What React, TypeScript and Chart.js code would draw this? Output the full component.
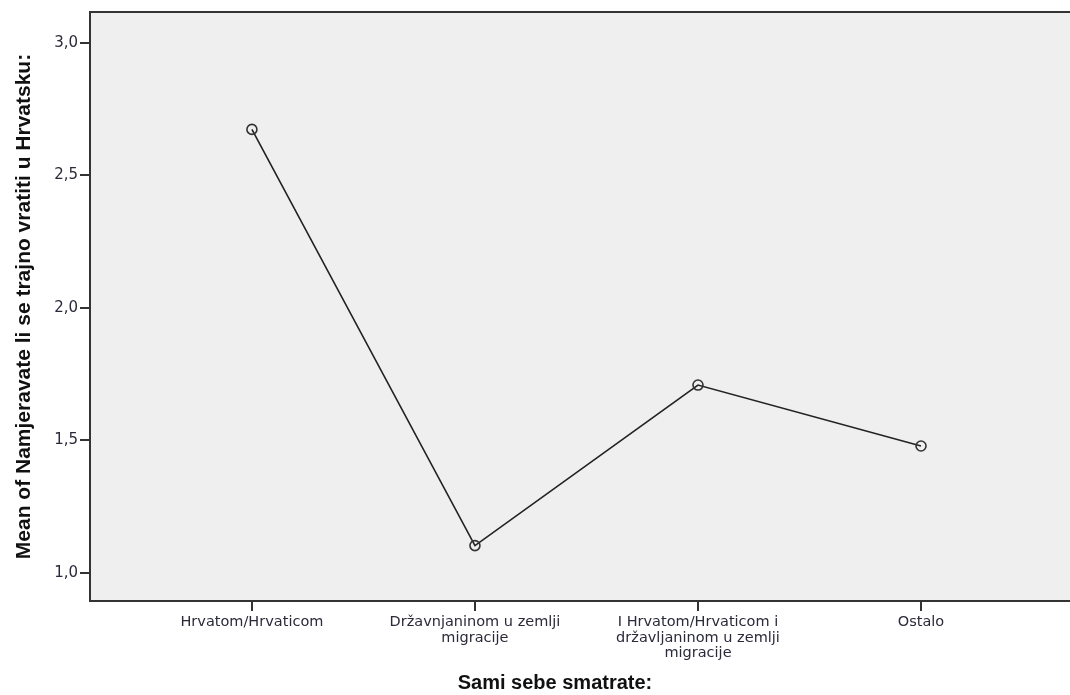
import React, { useEffect, useRef } from "react";
import { Chart, registerables } from "chart.js";

Chart.register(...registerables);

const categories: string[][] = [
  ["Hrvatom/Hrvaticom"],
  ["Državnjaninom u zemlji", "migracije"],
  ["I Hrvatom/Hrvaticom i", "državljaninom u zemlji", "migracije"],
  ["Ostalo"],
];
const categoryPositions = [1, 2, 3, 4];
const meanValues = [2.674, 1.103, 1.709, 1.479];
const yTickValues = [1.0, 1.5, 2.0, 2.5, 3.0];
const yTitle = "Mean of Namjeravate li se trajno vratiti u Hrvatsku:";
const xTitle = "Sami sebe smatrate:";

const TITLE_FONT = "'Liberation Sans', Arial, sans-serif";
const TICK_FONT = "'DejaVu Sans', 'Liberation Sans', sans-serif";

const framePlugin = {
  id: "spssFrame",
  beforeDraw(chart: any) {
    const { ctx, chartArea } = chart;
    ctx.save();
    ctx.fillStyle = "#efefef";
    ctx.fillRect(chartArea.left, chartArea.top, chartArea.right - chartArea.left, chartArea.bottom - chartArea.top);
    ctx.restore();
  },
  afterDraw(chart: any) {
    const { ctx, chartArea } = chart;
    ctx.save();
    ctx.strokeStyle = "#333";
    ctx.lineWidth = 2;
    ctx.beginPath();
    ctx.moveTo(chartArea.left - 1, chartArea.top);
    ctx.lineTo(chartArea.right, chartArea.top);
    ctx.stroke();

    ctx.fillStyle = "#111";
    ctx.font = `bold 21px ${TITLE_FONT}`;
    ctx.textAlign = "center";
    ctx.textBaseline = "middle";
    ctx.save();
    ctx.translate(24, (chartArea.top + chartArea.bottom) / 2);
    ctx.rotate(-Math.PI / 2);
    ctx.fillText(yTitle, 0, 0);
    ctx.restore();

    ctx.font = `bold 20px ${TITLE_FONT}`;
    ctx.fillText(xTitle, 555, 683);
    ctx.restore();
  },
};

export default function App() {
  const canvasRef = useRef<HTMLCanvasElement | null>(null);

  useEffect(() => {
    if (!canvasRef.current) return;
    const chart = new Chart(canvasRef.current, {
      type: "line",
      data: {
        datasets: [
          {
            data: categoryPositions.map((x, i) => ({ x, y: meanValues[i] })),
            borderColor: "#222",
            borderWidth: 1.6,
            pointRadius: 5,
            pointBorderWidth: 1.6,
            pointBorderColor: "#333",
            pointBackgroundColor: "rgba(0,0,0,0)",
            fill: false,
            tension: 0,
          },
        ],
      },
      options: {
        animation: false,
        responsive: false,
        maintainAspectRatio: false,
        layout: { autoPadding: false, padding: { top: 12, left: 0, right: 0, bottom: 0 } },
        plugins: { legend: { display: false }, tooltip: { enabled: false }, title: { display: false } },
        scales: {
          x: {
            type: "linear",
            min: 0.274,
            max: 4.668,
            afterBuildTicks: (scale: any) => {
              scale.ticks = categoryPositions.map((v) => ({ value: v }));
            },
            afterFit: (scale: any) => {
              scale.height = 94;
              scale.paddingLeft = 0;
              scale.paddingRight = 0;
            },
            ticks: {
              autoSkip: false,
              maxRotation: 0,
              padding: 4,
              color: "#2a2a3a",
              font: { family: TICK_FONT, size: 14.5, lineHeight: 1.05 },
              callback: (v: any) => {
                const idx = categoryPositions.indexOf(Number(v));
                return idx >= 0 ? categories[idx] : "";
              },
            },
            grid: { drawOnChartArea: false, drawTicks: true, tickLength: 10, color: "#333", lineWidth: 2 },
            border: { display: true, color: "#333", width: 2 },
          },
          y: {
            min: 0.894,
            max: 3.117,
            afterBuildTicks: (scale: any) => {
              scale.ticks = yTickValues.map((v) => ({ value: v }));
            },
            afterFit: (scale: any) => {
              scale.width = 90;
              scale.paddingTop = 0;
              scale.paddingBottom = 0;
            },
            ticks: {
              padding: 2,
              color: "#2a2a3a",
              font: { family: TICK_FONT, size: 15 },
              callback: (v: any) => Number(v).toFixed(1).replace(".", ","),
            },
            grid: { drawOnChartArea: false, drawTicks: true, tickLength: 10, color: "#333", lineWidth: 2 },
            border: { display: true, color: "#333", width: 2 },
          },
        },
      },
      plugins: [framePlugin],
    });
    return () => chart.destroy();
  }, []);

  return (
    <div style={{ position: "fixed", left: 0, top: 0, width: 1070, height: 695, background: "#fff" }}>
      <canvas ref={canvasRef} width={1070} height={695} style={{ width: 1070, height: 695, display: "block" }} />
    </div>
  );
}
